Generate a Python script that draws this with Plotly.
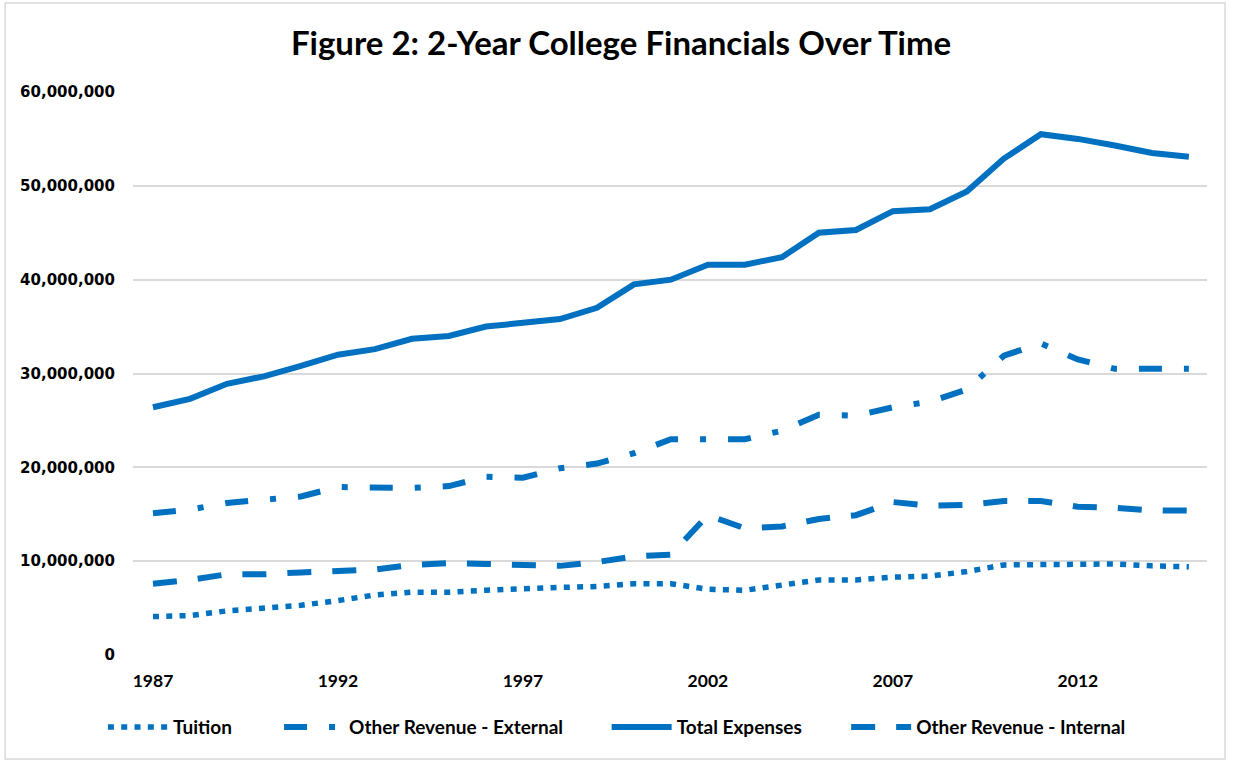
import plotly.graph_objects as go

years = list(range(1987, 2016))

tuition = [4.1, 4.2, 4.7, 5.0, 5.3, 5.8, 6.4, 6.7, 6.7, 6.9, 7.1, 7.2, 7.3, 7.6, 7.6,
           7.0, 6.9, 7.5, 8.0, 8.0, 8.3, 8.4, 8.9, 9.6, 9.6, 9.7, 9.7, 9.5, 9.4]
other_external = [15.1, 15.5, 16.2, 16.6, 16.9, 17.9, 17.9, 17.8, 18.0, 19.0, 18.9, 19.9, 20.4, 21.5, 23.0,
                  23.0, 23.0, 23.9, 25.6, 25.5, 26.4, 27.0, 28.3, 31.9, 33.2, 31.5, 30.5, 30.5, 30.5]
total_expenses = [26.4, 27.3, 28.9, 29.7, 30.8, 32.0, 32.6, 33.7, 34.0, 35.0, 35.4, 35.8, 37.0, 39.5, 40.0,
                  41.6, 41.6, 42.4, 45.0, 45.3, 47.3, 47.5, 49.4, 52.9, 55.5, 55.0, 54.3, 53.5, 53.1]
other_internal = [7.6, 8.0, 8.6, 8.6, 8.8, 8.9, 9.1, 9.6, 9.8, 9.7, 9.6, 9.5, 9.9, 10.5, 10.7,
                  14.9, 13.5, 13.7, 14.5, 14.9, 16.3, 15.9, 16.0, 16.4, 16.4, 15.8, 15.7, 15.4, 15.4]

tick_years = [1987, 1992, 1997, 2002, 2007, 2012]

M = 1_000_000
blue = "#0070C0"

series = [
    ("Tuition", tuition, "6px,7.3px", 5.5, "legend", -0.028),
    ("Other Revenue - External", other_external, "23px,22px,6px,22px", 6, "legend2", 0.136),
    ("Total Expenses", total_expenses, "solid", 6, "legend3", 0.441),
    ("Other Revenue - Internal", other_internal, "24px,21px", 6, "legend4", 0.664),
]

fig = go.Figure()
for name, vals, dash, w, lg, _ in series:
    fig.add_trace(go.Scatter(
        x=years, y=[v * M for v in vals], name=name, mode="lines",
        line=dict(color=blue, width=w, dash=dash), legend=lg,
    ))

legend_font = dict(family="Lato", size=19, color="#000", weight="bold")
legend_layout = {}
for name, vals, dash, w, lg, lx in series:
    legend_layout[lg] = dict(
        orientation="h", x=lx, xanchor="left", y=-0.128, yanchor="middle",
        font=legend_font, itemwidth=60, bgcolor="rgba(0,0,0,0)",
    )

fig.update_layout(
    width=1233, height=761,
    paper_bgcolor="white", plot_bgcolor="white",
    margin=dict(l=133, r=26, t=92, b=106),
    title=dict(
        text="<b>Figure 2: 2-Year College Financials Over Time</b>",
        x=0.5037, xref="container", xanchor="center",
        y=1 - 43 / 761, yref="container", yanchor="middle",
        font=dict(family="Lato", size=33, color="#000"),
    ),
    xaxis=dict(
        range=[1986.46, 2015.49], tickvals=tick_years,
        ticktext=[f"<b>{y}</b>" for y in tick_years],
        showgrid=False, zeroline=False, showline=False,
        tickfont=dict(family="Lato", size=17.5, color="#000"),
        ticks="", ticklabelstandoff=13,
    ),
    yaxis=dict(
        range=[0, 60 * M], dtick=10 * M, tickformat=",d",
        showgrid=True, gridcolor="#d9d9d9", gridwidth=1.5,
        zeroline=False, showline=False, ticks="",
        tickfont=dict(family="DejaVu Sans", size=15, color="#000", weight="bold"),
        ticklabelstandoff=17,
    ),
    showlegend=True,
    **legend_layout,
)

fig.add_shape(type="rect", xref="paper", yref="paper",
              x0=-0.119, x1=1.0168, y0=-0.1847, y1=1.158,
              line=dict(color="#d9d9d9", width=1.5), fillcolor="rgba(0,0,0,0)", layer="below")

fig.write_html("out.html")
